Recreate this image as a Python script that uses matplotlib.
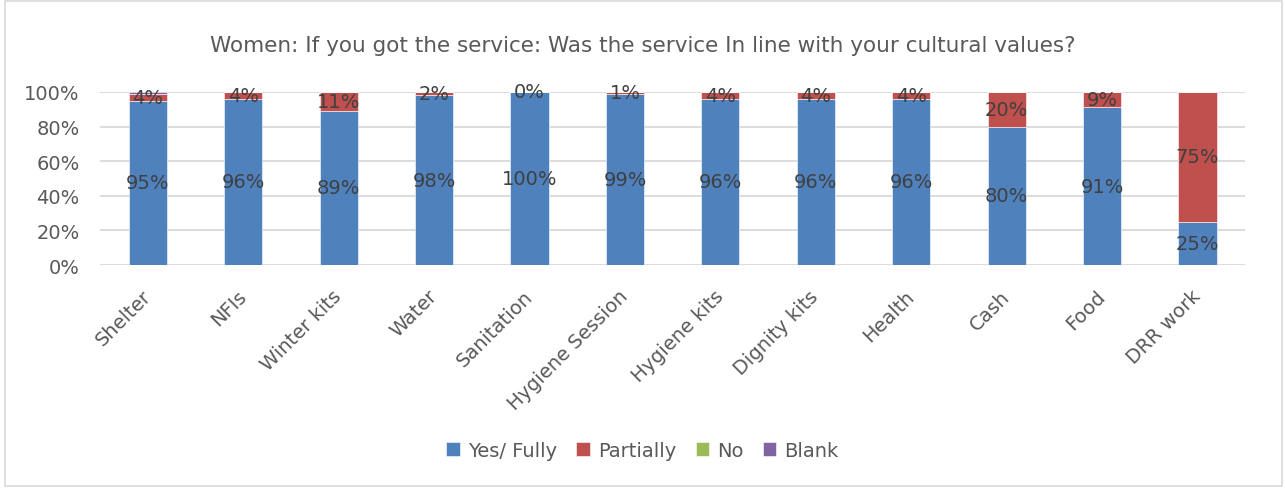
import matplotlib.pyplot as plt
from matplotlib.patches import Rectangle
import numpy as np

categories = ["Shelter", "NFIs", "Winter kits", "Water", "Sanitation", "Hygiene Session",
              "Hygiene kits", "Dignity kits", "Health", "Cash", "Food", "DRR work"]
yes_fully = [95, 96, 89, 98, 100, 99, 96, 96, 96, 80, 91, 25]
partially = [4, 4, 11, 2, 0, 1, 4, 4, 4, 20, 9, 75]
no = [0, 0, 0, 0, 0, 0, 0, 0, 0, 0, 0, 0]
blank = [1, 0, 0, 0, 0, 0, 0, 0, 0, 0, 0, 0]

series = [("Yes/ Fully", yes_fully, "#4F81BD"),
          ("Partially", partially, "#C0504D"),
          ("No", no, "#9BBB59"),
          ("Blank", blank, "#8064A2")]

txt = "#595959"
lbl = "#404040"
fig = plt.figure(figsize=(12.85, 4.89), dpi=100)
ax = fig.add_axes([0.078, 0.456, 0.891, 0.354])

x = np.arange(len(categories))
bottom = np.zeros(len(categories))
for name, vals, col in series:
    vals = np.array(vals, dtype=float)
    ax.bar(x, vals, 0.4, bottom=bottom, color=col, label=name, zorder=3,
           edgecolor="white", linewidth=0.4)
    if name in ("Yes/ Fully", "Partially"):
        for xi, b, v in zip(x, bottom, vals):
            ax.text(xi, b + v / 2, f"{v:.0f}%", ha="center", va="center",
                    fontsize=14, color=lbl, zorder=4)
    bottom += vals

ax.set_xlim(-0.5, len(categories) - 0.5)
ax.set_ylim(0, 100)
ax.set_yticks(range(0, 101, 20))
ax.set_yticklabels([f"{v}%" for v in range(0, 101, 20)], fontsize=14, color=txt)
ax.set_xticks(x)
ax.set_xticklabels(categories, rotation=45, ha="right", va="center",
                   rotation_mode="anchor", fontsize=14, color=txt)
ax.tick_params(axis="x", length=0, pad=20)
ax.tick_params(axis="y", length=0, pad=15)
ax.grid(axis="y", color="#D9D9D9", linewidth=1.3, zorder=0)
for s in ax.spines.values():
    s.set_visible(False)

fig.text(0.5, 0.905, "Women: If you got the service: Was the service In line with your cultural values?",
         ha="center", va="center", fontsize=15.5, color=txt)

handles, labels = ax.get_legend_handles_labels()
fig.legend(handles, labels, loc="center", bbox_to_anchor=(0.5, 0.077), ncol=4,
           frameon=False, fontsize=14, handlelength=0.7, handleheight=0.7,
           columnspacing=1.0, handletextpad=0.4, labelcolor=txt)

fig.patches.append(Rectangle((0.004, 0.004), 0.994, 0.992, transform=fig.transFigure,
                             fill=False, edgecolor="#D9D9D9", linewidth=1.2))

fig.savefig("out.png", dpi=100, facecolor="white")
